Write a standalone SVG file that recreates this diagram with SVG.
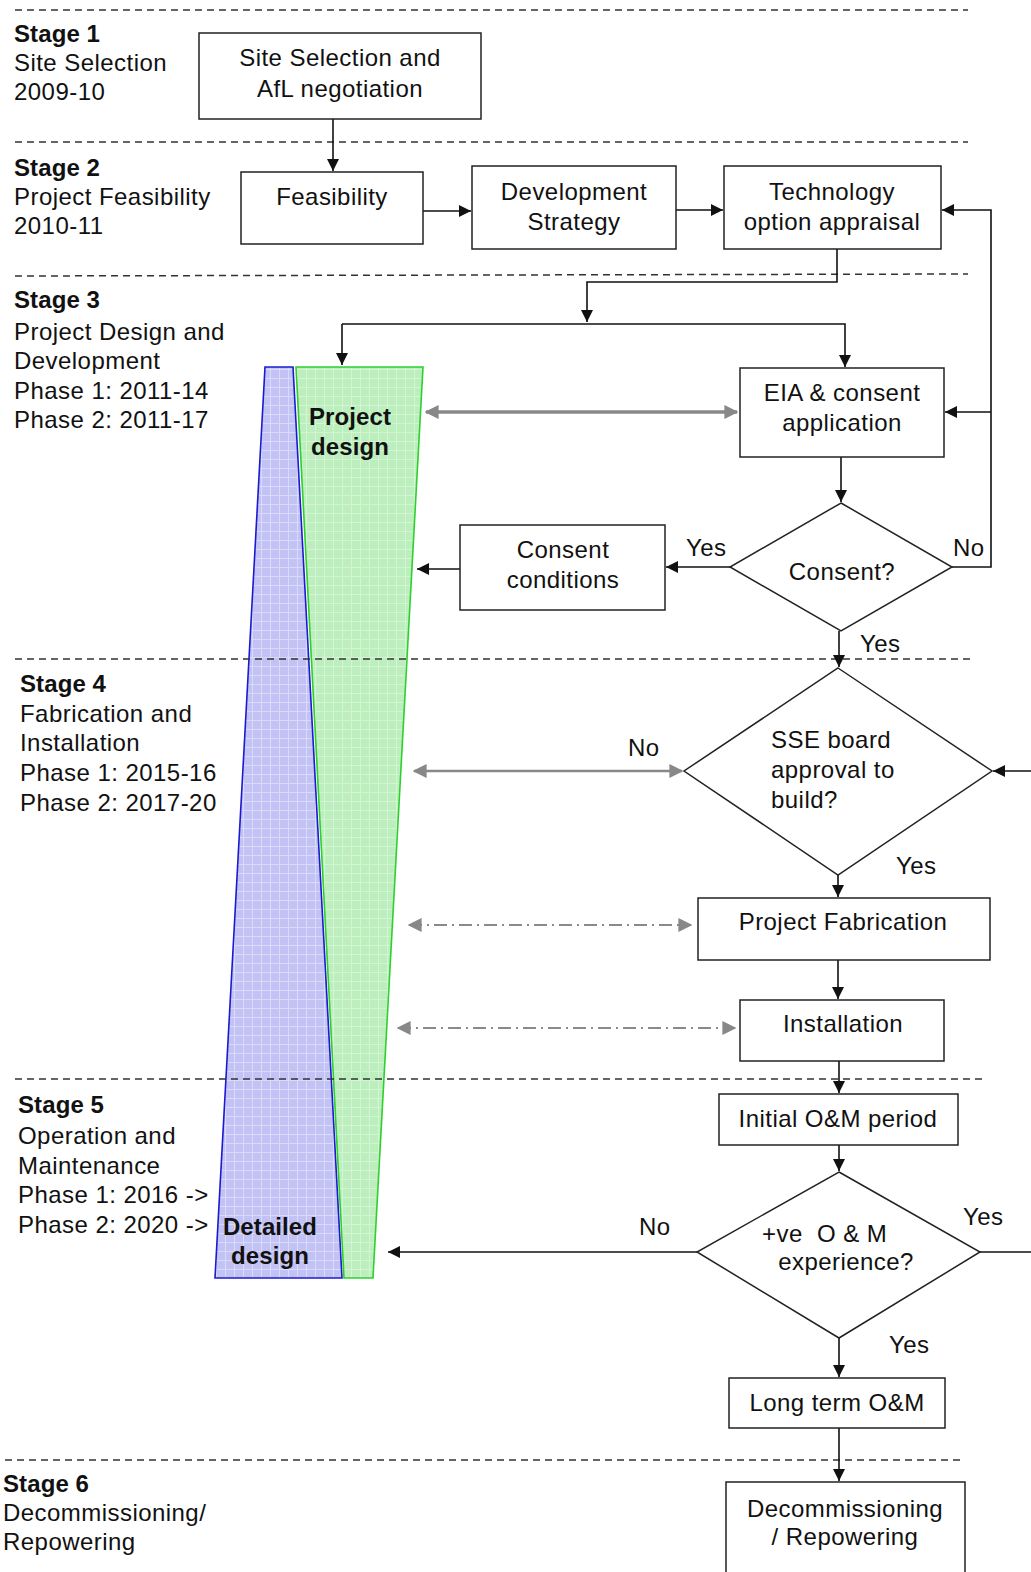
<svg xmlns="http://www.w3.org/2000/svg" width="1031" height="1572" viewBox="0 0 1031 1572">
<defs>
<style>
text{font-family:"Liberation Sans",Arial,sans-serif;font-size:24px;fill:#111;letter-spacing:0.45px}
.b{font-weight:bold;letter-spacing:0.1px}
.m{text-anchor:middle}
.box{fill:#fff;stroke:#222;stroke-width:1.5}
.sep{stroke:#333;stroke-width:1.5;stroke-dasharray:7,5;fill:none}
.ln{stroke:#111;stroke-width:1.6;fill:none}
.ga{stroke:#888;fill:none}
.dd{stroke:#8a8a8a;stroke-width:2;fill:none;stroke-dasharray:13,5,2,5}
</style>
<marker id="ah" viewBox="0 0 10 10" refX="10" refY="5" markerWidth="12" markerHeight="12" markerUnits="userSpaceOnUse" orient="auto-start-reverse"><path d="M0,0 L10,5 L0,10 z" fill="#111"/></marker>
<marker id="gh" viewBox="0 0 10 10" refX="9" refY="5" markerWidth="14" markerHeight="14" markerUnits="userSpaceOnUse" orient="auto-start-reverse"><path d="M0,0 L10,5 L0,10 z" fill="#888"/></marker>
<pattern id="pb" width="9" height="9" patternUnits="userSpaceOnUse"><rect width="9" height="9" fill="#c2c2f4"/><path d="M0,0.5H9M0.5,0V9" stroke="#dadafa" stroke-width="1"/></pattern>
<pattern id="pg" width="9" height="9" patternUnits="userSpaceOnUse"><rect width="9" height="9" fill="#bdeebd"/><path d="M0,0.5H9M0.5,0V9" stroke="#d4f5d4" stroke-width="1"/></pattern>
</defs>
<rect width="1031" height="1572" fill="#fff"/>

<g id="detailed-design">
<polygon points="265,367 293,367 342,1278 215,1278" fill="url(#pb)" stroke="#1a1ad0" stroke-width="1.6"/>
<text x="270" y="1235" class="b m">Detailed</text>
<text x="270" y="1264" class="b m">design</text>
</g>
<g id="project-design">
<polygon points="296,367 423,367 373,1278 344,1278" fill="url(#pg)" stroke="#2ed02e" stroke-width="1.6"/>
<text x="350" y="425" class="b m">Project</text>
<text x="350" y="455" class="b m">design</text>
</g>

<g id="separators">
<line class="sep" x1="15" y1="10" x2="968" y2="10"/>
<line class="sep" x1="15" y1="142" x2="968" y2="142"/>
<line class="sep" x1="15" y1="276" x2="968" y2="274"/>
<line class="sep" x1="15" y1="659" x2="972" y2="659"/>
<line class="sep" x1="15" y1="1079" x2="985" y2="1079"/>
<line class="sep" x1="5" y1="1460" x2="960" y2="1460"/>
</g>

<g id="stage-labels">
<text x="14" y="42" class="b">Stage 1</text>
<text x="14" y="71">Site Selection</text>
<text x="14" y="100">2009-10</text>
<text x="14" y="176" class="b">Stage 2</text>
<text x="14" y="205">Project Feasibility</text>
<text x="14" y="234">2010-11</text>
<text x="14" y="308" class="b">Stage 3</text>
<text x="14" y="340">Project Design and</text>
<text x="14" y="369">Development</text>
<text x="14" y="399">Phase 1: 2011-14</text>
<text x="14" y="428">Phase 2: 2011-17</text>
<text x="20" y="692" class="b">Stage 4</text>
<text x="20" y="722">Fabrication and</text>
<text x="20" y="751">Installation</text>
<text x="20" y="781">Phase 1: 2015-16</text>
<text x="20" y="811">Phase 2: 2017-20</text>
<text x="18" y="1113" class="b">Stage 5</text>
<text x="18" y="1144">Operation and</text>
<text x="18" y="1174">Maintenance</text>
<text x="18" y="1203">Phase 1: 2016 -&gt;</text>
<text x="18" y="1233">Phase 2: 2020 -&gt;</text>
<text x="3" y="1492" class="b">Stage 6</text>
<text x="3" y="1521">Decommissioning/</text>
<text x="3" y="1550">Repowering</text>
</g>

<g id="connectors">
<path class="ln" d="M333,119 V171" marker-end="url(#ah)"/>
<path class="ln" d="M423,211 H471" marker-end="url(#ah)"/>
<path class="ln" d="M676,210 H723" marker-end="url(#ah)"/>
<path class="ln" d="M837,249 V282 H587 V322" marker-end="url(#ah)"/>
<path class="ln" d="M342,324 H845 V367" marker-end="url(#ah)"/>
<path class="ln" d="M342,324 V365" marker-end="url(#ah)"/>
<path class="ln" d="M952,567 H991 V210 H942" marker-end="url(#ah)"/>
<path class="ln" d="M991,412 H945" marker-end="url(#ah)"/>
<path class="ln" d="M841,457 V502" marker-end="url(#ah)"/>
<path class="ln" d="M730,567 H666" marker-end="url(#ah)"/>
<path class="ln" d="M460,569 H417" marker-end="url(#ah)"/>
<path class="ga" stroke-width="3.5" d="M426,412 H737" marker-start="url(#gh)" marker-end="url(#gh)"/>
<path class="ln" d="M839,631 V667" marker-end="url(#ah)"/>
<path class="ga" stroke-width="2.5" d="M414,771 H682" marker-start="url(#gh)" marker-end="url(#gh)"/>
<path class="ln" d="M1031,771 H993" marker-end="url(#ah)"/>
<path class="ln" d="M838,875 V897" marker-end="url(#ah)"/>
<path class="dd" d="M409,925 H691" marker-start="url(#gh)" marker-end="url(#gh)"/>
<path class="ln" d="M838,960 V999" marker-end="url(#ah)"/>
<path class="dd" d="M398,1028 H735" marker-start="url(#gh)" marker-end="url(#gh)"/>
<path class="ln" d="M839,1061 V1093" marker-end="url(#ah)"/>
<path class="ln" d="M839,1145 V1171" marker-end="url(#ah)"/>
<path class="ln" d="M697,1252 H388" marker-end="url(#ah)"/>
<path class="ln" d="M980,1252 H1031"/>
<path class="ln" d="M839,1338 V1377" marker-end="url(#ah)"/>
<path class="ln" d="M839,1428 V1481" marker-end="url(#ah)"/>
<text x="686" y="556">Yes</text>
<text x="953" y="556">No</text>
<text x="860" y="652">Yes</text>
<text x="628" y="756">No</text>
<text x="896" y="874">Yes</text>
<text x="639" y="1235">No</text>
<text x="963" y="1225">Yes</text>
<text x="889" y="1353">Yes</text>
</g>

<g id="site-selection">
<rect class="box" x="199" y="33" width="282" height="86"/>
<text x="340" y="66" class="m">Site Selection and</text>
<text x="340" y="97" class="m">AfL negotiation</text>
</g>
<g id="feasibility">
<rect class="box" x="241" y="172" width="182" height="72"/>
<text x="332" y="205" class="m">Feasibility</text>
</g>
<g id="development-strategy">
<rect class="box" x="472" y="166" width="204" height="83"/>
<text x="574" y="200" class="m">Development</text>
<text x="574" y="230" class="m">Strategy</text>
</g>
<g id="technology">
<rect class="box" x="724" y="166" width="217" height="83"/>
<text x="832" y="200" class="m">Technology</text>
<text x="832" y="230" class="m">option appraisal</text>
</g>
<g id="eia">
<rect class="box" x="740" y="368" width="204" height="89"/>
<text x="842" y="401" class="m">EIA &amp; consent</text>
<text x="842" y="431" class="m">application</text>
</g>
<g id="consent">
<polygon class="box" points="841,503 952,567 841,631 730,567"/>
<text x="842" y="580" class="m">Consent?</text>
</g>
<g id="consent-conditions">
<rect class="box" x="460" y="525" width="205" height="85"/>
<text x="563" y="558" class="m">Consent</text>
<text x="563" y="588" class="m">conditions</text>
</g>
<g id="sse-approval">
<polygon class="box" points="838,668 992,771 838,875 684,771"/>
<text x="771" y="748">SSE board</text>
<text x="771" y="778">approval to</text>
<text x="771" y="808">build?</text>
</g>
<g id="project-fabrication">
<rect class="box" x="698" y="898" width="292" height="62"/>
<text x="843" y="930" class="m">Project Fabrication</text>
</g>
<g id="installation">
<rect class="box" x="740" y="1000" width="204" height="61"/>
<text x="843" y="1032" class="m">Installation</text>
</g>
<g id="initial-om">
<rect class="box" x="719" y="1094" width="239" height="51"/>
<text x="838" y="1127" class="m">Initial O&amp;M period</text>
</g>
<g id="om-experience">
<polygon class="box" points="839,1172 980,1252 839,1338 697,1252"/>
<text x="762" y="1242" xml:space="preserve">+ve  O &amp; M</text>
<text x="846" y="1270" class="m">experience?</text>
</g>
<g id="long-term-om">
<rect class="box" x="729" y="1378" width="216" height="50"/>
<text x="837" y="1411" class="m">Long term O&amp;M</text>
</g>
<g id="decommissioning">
<rect class="box" x="726" y="1482" width="239" height="95"/>
<text x="845" y="1517" class="m">Decommissioning</text>
<text x="845" y="1545" class="m">/ Repowering</text>
</g>
</svg>
